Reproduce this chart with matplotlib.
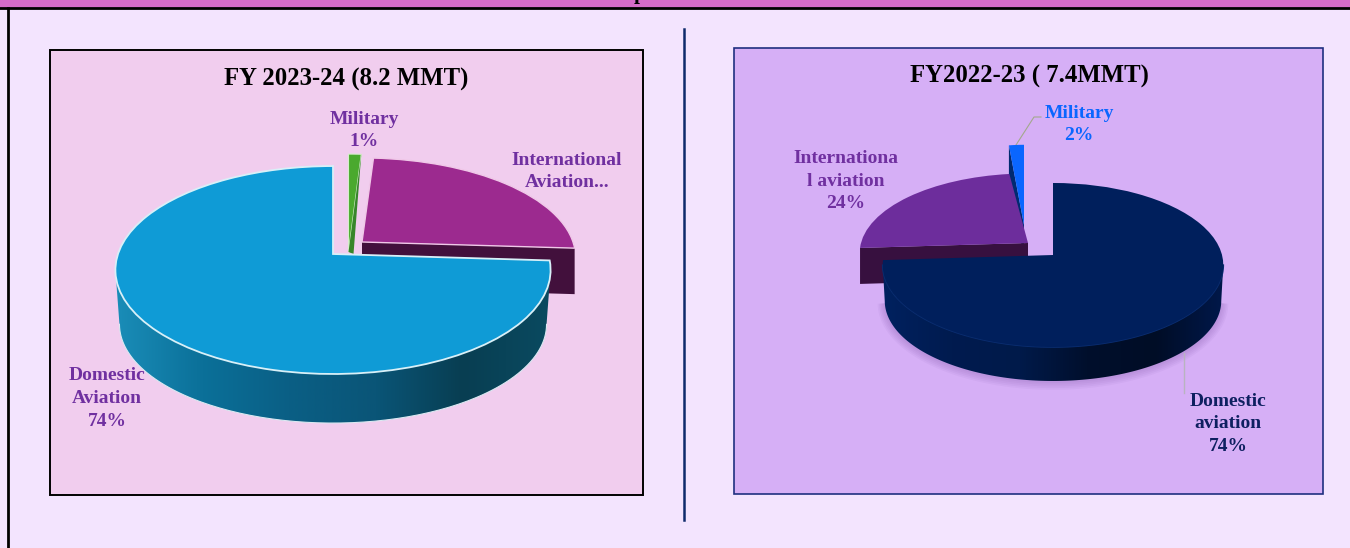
import numpy as np
import matplotlib
matplotlib.use("Agg")
import matplotlib.pyplot as plt
from matplotlib.colors import LinearSegmentedColormap
from matplotlib.patches import Rectangle
from matplotlib.path import Path
from matplotlib.transforms import Transform

plt.rcParams['font.family'] = ['Liberation Serif', 'DejaVu Serif']

# values
labels_24 = ["Domestic\nAviation\n74%", "International\nAviation...", "Military\n1%"]
values_24 = [74, 25, 1]
title_24 = "FY 2023-24 (8.2 MMT)"

labels_23 = ["Domestic\naviation\n74%", "Internationa\nl aviation\n24%", "Military\n2%"]
values_23 = [74, 24, 2]
title_23 = "FY2022-23 ( 7.4MMT)"

W, H = 1350, 548


class Tilt(Transform):
    # unit circle -> ellipse in pixels, with a bit of perspective
    input_dims = 2
    output_dims = 2

    def __init__(self, cx, cy, rx, ry, k):
        super().__init__()
        self.cx, self.cy, self.rx, self.ry, self.k = cx, cy, rx, ry, k

    def transform_non_affine(self, xy):
        xy = np.asarray(xy, dtype=float)
        d = 1 + self.k * xy[:, 1]
        return np.column_stack([self.cx + self.rx * xy[:, 0] / d,
                                self.cy - self.ry * xy[:, 1] / d])


def lower_points(tilt, t1, t2):
    # front part of the rim only, from widest point to widest point
    t = np.radians(np.linspace(t1, t2, 300))
    t = t[np.sin(t) < -tilt.k]
    return tilt.transform_non_affine(np.column_stack([np.cos(t), np.sin(t)]))


def gradient_wall(ax, pts, x0, x1, stops, z):
    cm = LinearSegmentedColormap.from_list("wall", stops)
    im = ax.imshow(np.linspace(0, 1, 256)[None, :], extent=(x0, x1, H, 0), cmap=cm,
                   aspect='auto', zorder=z)
    im.set_clip_path(Path(np.vstack([pts, pts[:1]]), closed=True), transform=ax.transData)


def edge_points(tilt, theta):
    t = np.radians(theta)
    return tilt.transform_non_affine(np.array([[0, 0], [np.cos(t), np.sin(t)]]))


def cut_wall(ax, tilt, theta, depth, color, z):
    pts = edge_points(tilt, theta)
    poly = np.vstack([pts, pts[::-1] + [0, depth]])
    ax.fill(poly[:, 0], poly[:, 1], color=color, lw=0, zorder=z)


fig = plt.figure(figsize=(W / 100, H / 100), dpi=100, facecolor='#f3e4fe')
ax = fig.add_axes([0, 0, 1, 1])

# left pie, drawn back to front
wedges, _ = ax.pie(values_24, startangle=90, counterclock=True, colors=['#0f9bd6', '#9c2a8f', '#4aa92e'])
dom, intl, mil = wedges
t_dom = Tilt(333, 254, 215, 101.5, 0.154)
t_intl = Tilt(362, 242, 211, 97, 0.154)
t_mil = Tilt(348.5, 252, 235, 113, 0.154)

pts = edge_points(t_mil, mil.theta1)
poly = np.vstack([pts, pts[:1] + [5, 2]])
ax.fill(poly[:, 0], poly[:, 1], color='#37862a', lw=0, zorder=5)
mil.set_transform(t_mil + ax.transData)
mil.set(zorder=4, edgecolor='#d5eecb', lw=0.8)

cut_wall(ax, t_intl, intl.theta1, 46, '#42103c', 5)
intl.set_transform(t_intl + ax.transData)
intl.set(zorder=6, edgecolor='#f0c8e8', lw=1.0)

upper = lower_points(t_dom, dom.theta1, dom.theta2)
lower = lower_points(Tilt(333, 309, 211, 96.5, 0.154), dom.theta1, dom.theta2)
gradient_wall(ax, np.vstack([upper, lower[::-1]]), 115, 550,
              ['#1a8db8', '#0b7099', '#0a5f85', '#0a5577', '#083e52', '#0a4a60'], 7)
ax.plot(lower[:, 0], lower[:, 1], color='#dbe9f2', lw=0.8, zorder=8)
dom.set_transform(t_dom + ax.transData)
dom.set(zorder=9, edgecolor='#d8f0f8', lw=1.3)

# right pie
wedges, _ = ax.pie(values_23, startangle=90, counterclock=False, colors=['#001f5c', '#6d2d9c', '#0a66ff'])
dom2, intl2, mil2 = wedges
t_dom2 = Tilt(1053, 255, 169, 80.8, 0.122)
t_intl2 = Tilt(1028, 243, 167, 78, 0.122)
t_mil2 = Tilt(1024, 225, 135, 90, 0.122)

for i in range(5):
    sh = lower_points(Tilt(1053, 293, 168 + i * 1.5, 79 + i * 1.5, 0.122), dom2.theta1, dom2.theta2)
    ax.fill(sh[:, 0], sh[:, 1], color='#6b3f96', alpha=0.05, lw=0, zorder=2)

cut_wall(ax, t_mil2, mil2.theta2, 33, '#002a70', 3)
mil2.set_transform(t_mil2 + ax.transData)
mil2.set(zorder=4, edgecolor='none')

cut_wall(ax, t_intl2, intl2.theta2, 36, '#37103f', 5)
intl2.set_transform(t_intl2 + ax.transData)
intl2.set(zorder=6, edgecolor='none')

upper = lower_points(t_dom2, dom2.theta1, dom2.theta2)
lower = lower_points(Tilt(1053, 291, 167, 79, 0.122), dom2.theta1, dom2.theta2)
gradient_wall(ax, np.vstack([upper, lower[::-1]]), 883, 1224,
              ['#00215f', '#001b4f', '#001a4a', '#000f2c', '#000d26', '#00184a'], 7)
ax.plot(upper[:, 0], upper[:, 1], color='#0a2d70', lw=1.2, zorder=8)
dom2.set_transform(t_dom2 + ax.transData)
dom2.set(zorder=9, edgecolor='none')

ax.set_aspect('auto')
ax.set_xlim(0, W)
ax.set_ylim(H, 0)
ax.axis('off')

# frame and panels
ax.add_patch(Rectangle((0, 0), W, 8, fc='#d56bc9', ec='none', zorder=0))
ax.plot([0, W], [8, 8], color='black', lw=2, zorder=1)
ax.plot([8, 8], [8, H], color='black', lw=2, zorder=1)
ax.text(640, -0.5, "p", color='black', fontsize=15, fontweight='bold', ha='center', va='baseline', zorder=1)
ax.plot([684, 684], [29, 520], color='#0e2a6b', lw=1.8, zorder=1)
ax.add_patch(Rectangle((50, 49.5), 593, 445.5, fc='#f1cdee', ec='black', lw=1.4, zorder=0.5))
ax.add_patch(Rectangle((733.5, 47.5), 589.5, 446.5, fc='#d6aff6', ec='#1f2f80', lw=1.2, zorder=0.5))

# leader lines
ax.plot([1016, 1034, 1041], [145, 117, 117], color='#a3a88d', lw=0.8, zorder=3)
ax.plot([1184, 1184], [353, 393], color='#b8b4c0', lw=1.0, zorder=3)

# text
ax.text(346, 79, title_24, fontsize=17.8, fontweight='bold', ha='center', va='center', zorder=10)
ax.text(1029, 76, title_23, fontsize=17.8, fontweight='bold', ha='center', va='center', zorder=10)

label_kw = dict(fontsize=14, fontweight='bold', ha='center', va='center', linespacing=1.46, zorder=10)
ax.text(107, 398.5, labels_24[0], color='#7030a0', **label_kw)
ax.text(567, 171.5, labels_24[1], color='#7030a0', **label_kw)
ax.text(364, 130.5, labels_24[2], color='#7030a0', **label_kw)
ax.text(1228, 424, labels_23[0], color='#0e2060', **label_kw)
ax.text(846, 181, labels_23[1], color='#7030a0', **label_kw)
ax.text(1079, 124.5, labels_23[2], color='#0a66ff', **label_kw)

fig.savefig("out.png", dpi=100, facecolor=fig.get_facecolor())
